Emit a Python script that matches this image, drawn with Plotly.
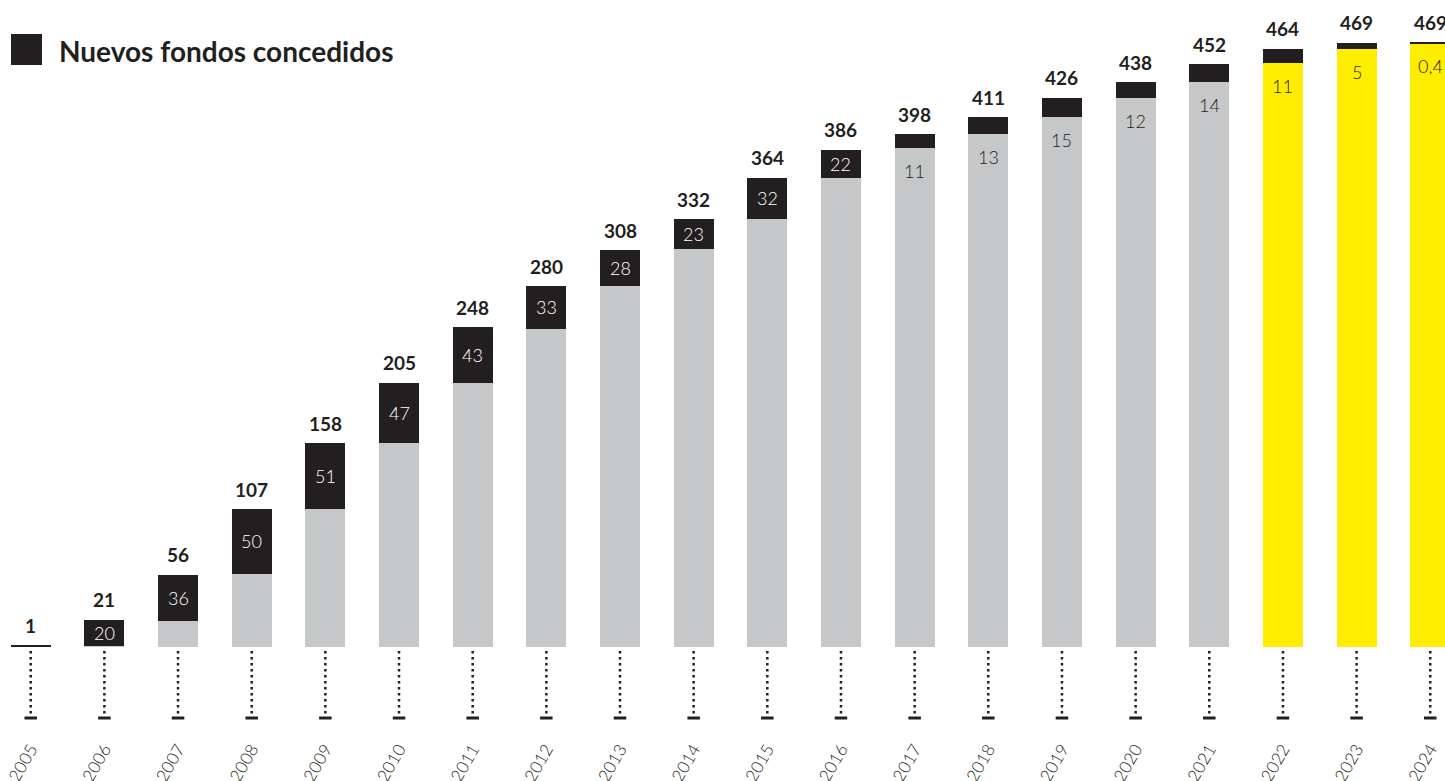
import plotly.graph_objects as go

years = [str(y) for y in range(2005, 2025)]
totals = [1, 21, 56, 107, 158, 205, 248, 280, 308, 332, 364, 386, 398, 411, 426, 438, 452, 464, 469, 469]
new_funds = [1, 20, 36, 50, 51, 47, 43, 33, 28, 23, 32, 22, 11, 13, 15, 12, 14, 11, 5, 0.4]
new_labels = ["", "20", "36", "50", "51", "47", "43", "33", "28", "23", "32", "22",
              "11", "13", "15", "12", "14", "11", "5", "0,4"]
highlight = [False] * 17 + [True] * 3
legend_text = "Nuevos fondos concedidos"

DARK = "#231f20"
GRAY = "#c6c7c9"
YELLOW = "#ffed00"
FONT = "Lato"

W, H = 1445, 781
PLOT_H = 647

base = [t - n for t, n in zip(totals, new_funds)]
base_colors = [YELLOW if h else GRAY for h in highlight]
xs = list(range(len(years)))

fig = go.Figure()
fig.add_trace(go.Bar(x=xs, y=base, marker=dict(color=base_colors, line=dict(width=0)),
                     width=0.54, hoverinfo="skip"))
fig.add_trace(go.Bar(x=xs, y=new_funds, marker=dict(color=DARK, line=dict(width=0)),
                     width=0.54, hoverinfo="skip"))

annotations = []
shapes = []
for i, yr in enumerate(years):
    # total labels
    annotations.append(dict(x=i, y=totals[i], xref="x", yref="y", text=f"<b>{totals[i]}</b>",
                            showarrow=False, yshift=20, yanchor="middle",
                            font=dict(family=FONT, size=19, color=DARK)))
    # new funds labels
    if new_labels[i]:
        if new_funds[i] >= 20:
            annotations.append(dict(x=i, y=base[i] + new_funds[i] / 2, xref="x", yref="y",
                                    text=new_labels[i], showarrow=False, yanchor="middle",
                                    font=dict(family=FONT, size=18, color="white", weight=300)))
        else:
            annotations.append(dict(x=i, y=base[i], xref="x", yref="y",
                                    text=new_labels[i], showarrow=False, yanchor="middle",
                                    yshift=-23,
                                    font=dict(family=FONT, size=18, color=DARK, weight=300)))
    # dotted leader
    shapes.append(dict(type="line", xref="x", yref="paper", ysizemode="pixel", yanchor=0,
                       x0=i, x1=i, y0=-4, y1=-68,
                       line=dict(color=DARK, width=2.5, dash="2.5px,3.5px")))
    # end tick
    shapes.append(dict(type="line", xref="x", yref="paper", ysizemode="pixel", yanchor=0,
                       x0=i - 0.085, x1=i + 0.085, y0=-71, y1=-71,
                       line=dict(color=DARK, width=3)))

# legend square and text
shapes.append(dict(type="rect", xref="paper", yref="paper",
                   x0=11 / W, x1=42 / W, y0=(PLOT_H - 65) / PLOT_H, y1=(PLOT_H - 34) / PLOT_H,
                   fillcolor=DARK, line=dict(width=0)))
annotations.append(dict(x=57 / W, y=(PLOT_H - 51) / PLOT_H, xref="paper", yref="paper",
                        text=f"<b>{legend_text}</b>", showarrow=False, xanchor="left",
                        yanchor="middle", font=dict(family=FONT, size=28, color=DARK)))

fig.update_layout(
    width=W, height=H,
    barmode="stack",
    showlegend=False,
    plot_bgcolor="white", paper_bgcolor="white",
    margin=dict(l=0, r=0, t=0, b=H - PLOT_H, pad=0, autoexpand=False),
    xaxis=dict(range=[-0.417, 19.2], tickmode="array", tickvals=xs, ticktext=years,
               tickangle=-60, ticklabelstandoff=88, ticks="",
               tickfont=dict(family=FONT, size=17, color=DARK, weight=300),
               showgrid=False, zeroline=False, showline=False, fixedrange=True,
               automargin=False),
    yaxis=dict(range=[0, 502], visible=False, showgrid=False, zeroline=False, fixedrange=True),
    annotations=annotations,
    shapes=shapes,
    bargap=0,
)

fig.write_html("out.html", config={"displayModeBar": False},
               post_script="document.body.style.margin='0';document.body.style.overflow='hidden';")
